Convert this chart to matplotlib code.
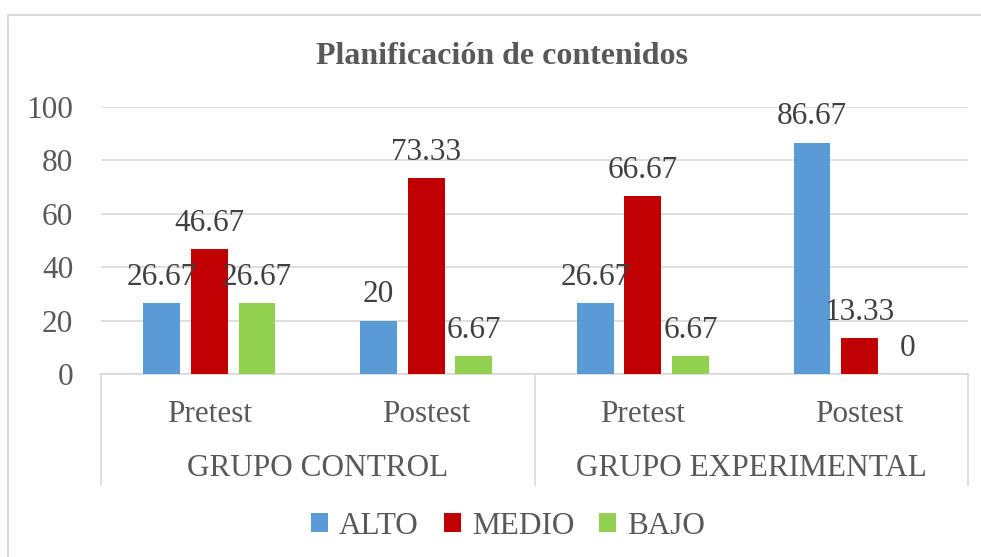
import matplotlib.pyplot as plt
import matplotlib.transforms as mtransforms
from matplotlib.patches import Rectangle
import numpy as np

plt.rcParams["font.family"] = ["Liberation Serif", "DejaVu Serif"]

# --- Data ---
groups = ["GRUPO CONTROL", "GRUPO EXPERIMENTAL"]
tests = ["Pretest", "Postest", "Pretest", "Postest"]
series = ["ALTO", "MEDIO", "BAJO"]
alto = [26.67, 20, 26.67, 86.67]
medio = [46.67, 73.33, 66.67, 13.33]
bajo = [26.67, 6.67, 6.67, 0]
colors = ["#5B9BD5", "#C00000", "#92D050"]

txt = "#595959"
grid_c = "#D9D9D9"
fs = 22.5

fig = plt.figure(figsize=(9.81, 5.57), dpi=100)
ax = fig.add_axes([101 / 981, 1 - 374 / 557, (968 - 101) / 981, (374 - 107) / 557])

x = np.arange(len(tests))
width = 0.17
step = 0.22
for i, (name, vals) in enumerate(zip(series, [alto, medio, bajo])):
    bars = ax.bar(x + (i - 1) * step, vals, width, color=colors[i], label=name, zorder=3)
    ax.bar_label(bars, labels=[f"{v:g}" for v in vals], padding=8, fontsize=fs, color="#404040", zorder=4)

ax.set_xlim(-0.5, len(tests) - 0.5)
ax.set_ylim(0, 100)
ax.set_yticks(range(0, 101, 20))
ax.tick_params(axis="y", length=0, labelsize=fs, labelcolor=txt, pad=20)
ax.yaxis.grid(True, color=grid_c, linewidth=1.2, zorder=0)

ax.set_xticks(x)
ax.set_xticklabels(tests)
ax.tick_params(axis="x", length=0, labelsize=fs, labelcolor=txt, pad=19)

for s in ["top", "right", "left"]:
    ax.spines[s].set_visible(False)
ax.spines["bottom"].set_color(grid_c)
ax.spines["bottom"].set_linewidth(1.2)

# second level category labels + separators
trans = mtransforms.blended_transform_factory(ax.transData, ax.transAxes)
axis_h = (374 - 107)
for k, g in enumerate(groups):
    ax.text(0.5 + 2 * k, -(469 - 374) / axis_h, g, transform=trans, ha="center", va="center",
            fontsize=fs, color=txt)
for xs in [-0.5, 1.5, 3.5]:
    ax.plot([xs, xs], [0, -(485 - 374) / axis_h], transform=trans, color=grid_c,
            linewidth=1.2, clip_on=False)

fig.text(502 / 981, 1 - 57 / 557, "Planificación de contenidos", fontsize=23,
         fontweight="bold", color=txt, ha="center", va="center")

leg = ax.legend(loc="center", bbox_to_anchor=(508 / 981, 1 - 526 / 557), bbox_transform=fig.transFigure,
                ncol=3, frameon=False, fontsize=fs, handlelength=0.55, handleheight=0.55,
                handletextpad=0.35, columnspacing=0.8)
for t in leg.get_texts():
    t.set_color(txt)

# chart border
fig.patches.append(Rectangle((8 / 981, -0.05), 1.0, 1 - 15 / 557 + 0.05, transform=fig.transFigure,
                             fill=False, edgecolor=grid_c, linewidth=1.5))

fig.savefig("out.png", dpi=100)
